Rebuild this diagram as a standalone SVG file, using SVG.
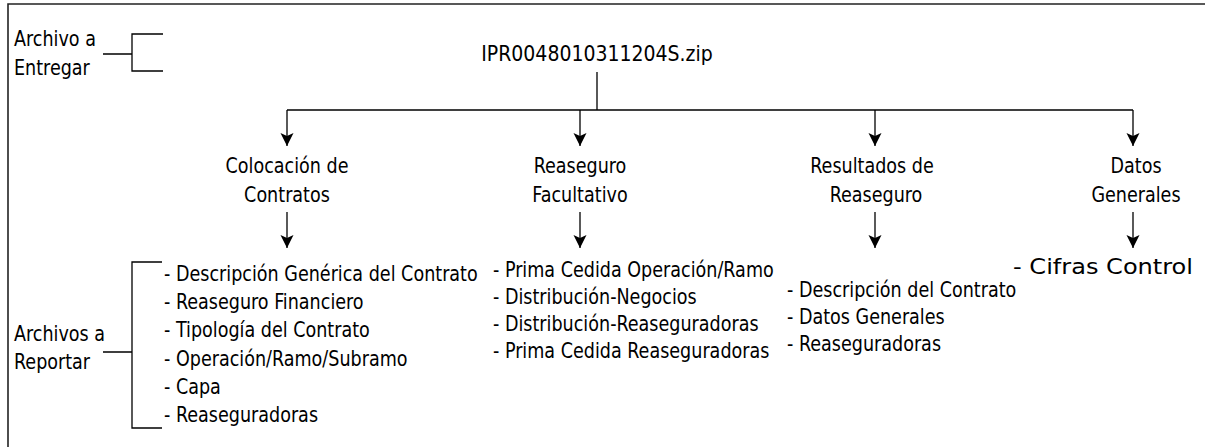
<svg xmlns="http://www.w3.org/2000/svg" width="1205" height="447" viewBox="0 0 1205 447">
<style>
  text { font-family: "DejaVu Sans Condensed", "DejaVu Sans", sans-serif; font-stretch: condensed; font-size: 21px; fill: #000; }
  .c { text-anchor: middle; }
  .ln { stroke: #000; stroke-width: 1.3; fill: none; }
  .frame { stroke: #222; stroke-width: 1.6; fill: none; }
</style>
<defs>
  <marker id="ah" markerUnits="userSpaceOnUse" markerWidth="14" markerHeight="14" viewBox="0 0 14 14" refX="13" refY="7" orient="auto">
    <path d="M0,0.5 L13,7 L0,13.5 L3,7 Z" fill="#000"/>
  </marker>
</defs>
<rect width="1205" height="447" fill="#fff"/>
<path class="frame" d="M8,447 V4 H1205"/>

<g id="legend-entregar">
  <text transform="translate(14,46) scale(0.93,1)">Archivo a</text>
  <text transform="translate(14,75) scale(0.93,1)">Entregar</text>
  <path class="ln" d="M103,54 H132 M163,34 H132 V71 H163"/>
</g>

<g id="legend-reportar">
  <text transform="translate(14,341) scale(0.93,1)">Archivos a</text>
  <text transform="translate(14,369) scale(0.93,1)">Reportar</text>
  <path class="ln" d="M103,352 H132 M162,262 H132 V428 H162"/>
</g>

<g id="root">
  <text class="c" x="597" y="61">IPR0048010311204S.zip</text>
</g>

<g id="connectors">
  <path class="ln" d="M597,72 V110 M287,110 H1133"/>
  <path class="ln" d="M287,110 V146" marker-end="url(#ah)"/>
  <path class="ln" d="M580,110 V146" marker-end="url(#ah)"/>
  <path class="ln" d="M875,110 V146" marker-end="url(#ah)"/>
  <path class="ln" d="M1133,110 V146" marker-end="url(#ah)"/>
  <path class="ln" d="M287,212 V248" marker-end="url(#ah)"/>
  <path class="ln" d="M580,212 V248" marker-end="url(#ah)"/>
  <path class="ln" d="M875,212 V248" marker-end="url(#ah)"/>
  <path class="ln" d="M1133,212 V248" marker-end="url(#ah)"/>
</g>

<g id="colocacion">
  <text class="c" transform="translate(287,173) scale(0.93,1)">Colocación de</text>
  <text class="c" transform="translate(287,202) scale(0.93,1)">Contratos</text>
</g>
<g id="facultativo">
  <text class="c" transform="translate(580,173) scale(0.93,1)">Reaseguro</text>
  <text class="c" transform="translate(580,202) scale(0.93,1)">Facultativo</text>
</g>
<g id="resultados">
  <text class="c" transform="translate(872,173) scale(0.93,1)">Resultados de</text>
  <text class="c" transform="translate(876,202) scale(0.93,1)">Reaseguro</text>
</g>
<g id="datos">
  <text class="c" transform="translate(1136,173) scale(0.93,1)">Datos</text>
  <text class="c" transform="translate(1136,202) scale(0.93,1)">Generales</text>
</g>

<g id="list-colocacion">
  <text transform="translate(164,281) scale(0.93,1)">- Descripción Genérica del Contrato</text>
  <text transform="translate(164,309) scale(0.93,1)">- Reaseguro Financiero</text>
  <text transform="translate(164,337) scale(0.93,1)">- Tipología del Contrato</text>
  <text transform="translate(164,366) scale(0.93,1)">- Operación/Ramo/Subramo</text>
  <text transform="translate(164,394) scale(0.93,1)">- Capa</text>
  <text transform="translate(164,422) scale(0.93,1)">- Reaseguradoras</text>
</g>
<g id="list-facultativo">
  <text transform="translate(493,277) scale(0.93,1)">- Prima Cedida Operación/Ramo</text>
  <text transform="translate(493,304) scale(0.93,1)">- Distribución-Negocios</text>
  <text transform="translate(493,331) scale(0.93,1)">- Distribución-Reaseguradoras</text>
  <text transform="translate(493,358) scale(0.93,1)">- Prima Cedida Reaseguradoras</text>
</g>
<g id="list-resultados">
  <text transform="translate(787,297) scale(0.93,1)">- Descripción del Contrato</text>
  <text transform="translate(787,324) scale(0.93,1)">- Datos Generales</text>
  <text transform="translate(787,351) scale(0.93,1)">- Reaseguradoras</text>
</g>
<g id="list-datos">
  <text x="1013" y="274" style="font-size:22px" textLength="180" lengthAdjust="spacingAndGlyphs">- Cifras Control</text>
</g>
</svg>
